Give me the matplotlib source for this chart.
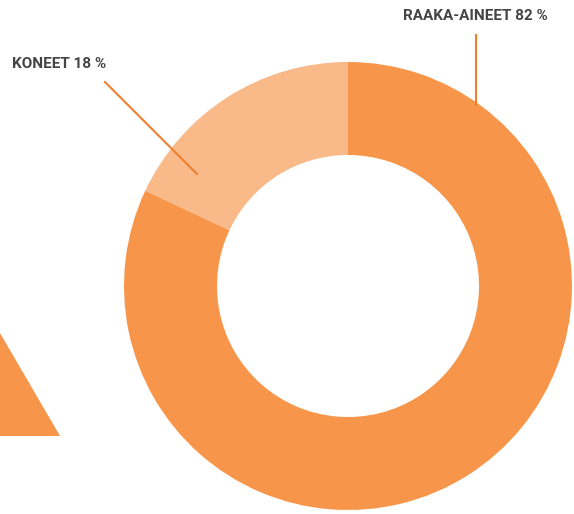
import matplotlib.pyplot as plt
from matplotlib.patches import Polygon

labels = ['RAAKA-AINEET 82 %', 'KONEET 18 %']
shares = [82, 18]
colors = ['#F7964A', '#F9B988']

W, H = 574, 514
fig = plt.figure(figsize=(W / 100, H / 100), dpi=100)
ax = fig.add_axes([0, 0, 1, 1])

# donut, pixel coords with y flipped
cx, cy = 348, H - 286
ax.pie(shares, colors=colors, startangle=90, counterclock=False,
       center=(cx, cy), radius=224, frame=True,
       wedgeprops=dict(width=93, linewidth=0))
ax.set_xlim(0, W)
ax.set_ylim(0, H)
ax.set_aspect('equal')
ax.axis('off')

# decorative triangle bottom-left
ax.add_patch(Polygon([(0, H - 333), (60, H - 436), (0, H - 436)],
                     closed=True, color='#F7964A', lw=0))

# leader lines
line_col = '#F07F2F'
ax.plot([476, 476], [H - 35, H - 105], color=line_col, lw=1.5)
ax.plot([105, 197], [H - 82, H - 174], color=line_col, lw=1.5)

# labels
ax.text(475, H - 16, labels[0], ha='center', va='center', fontsize=11,
        fontweight='bold', color='#444444', family='Roboto')
ax.text(12, H - 64, labels[1], ha='left', va='center', fontsize=11,
        fontweight='bold', color='#444444', family='Roboto')

fig.savefig('out.png', dpi=100)
